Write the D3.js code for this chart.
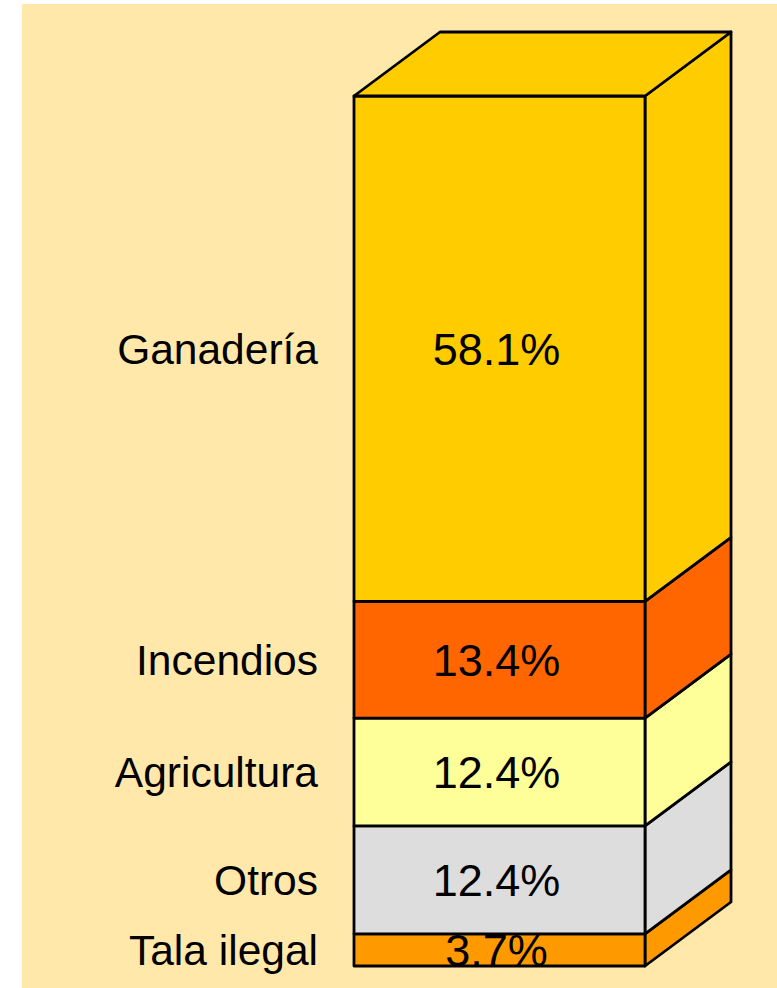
<!DOCTYPE html>
<html>
<head>
<meta charset="utf-8">
<script src="https://cdn.jsdelivr.net/npm/d3@7"></script>
<style>
  html, body { margin: 0; padding: 0; background: #fff; }
  svg { display: block; }
  text { font-family: "Liberation Sans", Arial, sans-serif; fill: #000; }
</style>
</head>
<body>
<svg id="chart" width="777" height="988"></svg>
<script>
/* globals d3 */

// bottom to top
const categories = ['Tala ilegal', 'Otros', 'Agricultura', 'Incendios', 'Ganadería'];
const values = [3.7, 12.4, 12.4, 13.4, 58.1];
const labels = ['3.7%', '12.4%', '12.4%', '13.4%', '58.1%'];
const colors = ['#FF9900', '#DDDDDD', '#FFFF99', '#FF6600', '#FFCC00'];

const svg = d3.select('#chart');
const frontLeft = 354;
const frontRight = 645;
const depthX = 86;
const depthY = 64;
const labelSize = 42.5;
const valueSize = 45;

const y = d3.scaleLinear()
  .domain([0, d3.sum(values)])
  .range([966, 96]);

let acc = 0;
const segments = values.map((v, i) => {
  const s = { cat: categories[i], label: labels[i], color: colors[i], y0: acc, y1: acc + v };
  acc += v;
  return s;
});

/* background */
svg.append('rect')
  .attr('x', 22)
  .attr('y', 4)
  .attr('width', 777 - 22)
  .attr('height', 988 - 4)
  .attr('fill', '#FFE8AA');

const bar = svg.append('g')
  .attr('stroke', '#000')
  .attr('stroke-width', 2.8)
  .attr('stroke-linejoin', 'round');

/* side faces */
bar.selectAll('path.side')
  .data(segments)
  .join('path')
  .attr('class', 'side')
  .attr('fill', d => d.color)
  .attr('d', d => `M ${frontRight} ${y(d.y0)}
                   L ${frontRight + depthX} ${y(d.y0) - depthY}
                   L ${frontRight + depthX} ${y(d.y1) - depthY}
                   L ${frontRight} ${y(d.y1)} Z`);

/* front faces */
bar.selectAll('rect.front')
  .data(segments)
  .join('rect')
  .attr('class', 'front')
  .attr('fill', d => d.color)
  .attr('x', frontLeft)
  .attr('width', frontRight - frontLeft)
  .attr('y', d => y(d.y1))
  .attr('height', d => y(d.y0) - y(d.y1));

/* top face */
const topSeg = segments[segments.length - 1];
const yt = y(topSeg.y1);
bar.append('path')
  .attr('fill', topSeg.color)
  .attr('d', `M ${frontLeft} ${yt}
              L ${frontLeft + depthX} ${yt - depthY}
              L ${frontRight + depthX} ${yt - depthY}
              L ${frontRight} ${yt} Z`);

/* category labels */
svg.selectAll('text.cat')
  .data(segments)
  .join('text')
  .attr('class', 'cat')
  .attr('x', 318)
  .attr('y', d => (y(d.y0) + y(d.y1)) / 2 + labelSize * 0.358)
  .attr('text-anchor', 'end')
  .attr('font-size', labelSize)
  .text(d => d.cat);

/* value labels */
svg.selectAll('text.val')
  .data(segments)
  .join('text')
  .attr('class', 'val')
  .attr('x', (frontLeft + frontRight) / 2 - 3)
  .attr('y', d => (y(d.y0) + y(d.y1)) / 2 + valueSize * 0.358)
  .attr('text-anchor', 'middle')
  .attr('font-size', valueSize)
  .text(d => d.label);
</script>
</body>
</html>
